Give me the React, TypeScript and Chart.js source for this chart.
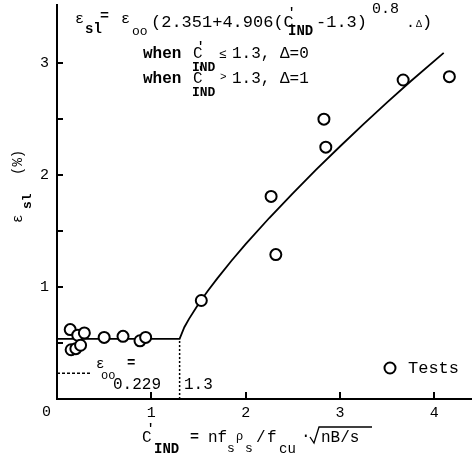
import React, { useEffect, useRef } from 'react';
import { Chart, registerables } from 'chart.js';

Chart.register(...registerables);

// Test points (C'_IND, eps_sl %)
const testX = [0.14, 0.22, 0.29, 0.15, 0.2, 0.25, 0.5, 0.7, 0.88, 0.94, 1.53, 2.27, 2.32, 2.83, 2.85, 3.67, 4.16];
const testY = [0.62, 0.57, 0.59, 0.44, 0.45, 0.48, 0.55, 0.56, 0.52, 0.55, 0.88, 1.81, 1.29, 2.5, 2.25, 2.85, 2.88];

// Model curve
const curveX = [0, 1.3, 1.35, 1.4, 1.5, 1.6, 1.7, 1.85, 2.0, 2.25, 2.5, 2.75, 3.0, 3.25, 3.5, 3.75, 4.1];
const curveY = [0.538, 0.538, 0.641, 0.716, 0.848, 0.967, 1.078, 1.235, 1.383, 1.617, 1.838, 2.051, 2.256, 2.455, 2.65, 2.839, 3.092];

// Dashed guide lines
const eps00X = [0, 0.35];
const eps00Y = [0.229, 0.229];
const cutX = [1.3, 1.3];
const cutY = [0, 0.538];

// Axis ticks
const xTickValues = [1, 2, 3, 4];
const xTickLabels = ['1', '2', '3', '4'];
const yTickValues = [1, 2, 3];
const yTickLabels = ['1', '2', '3'];
const yMinorTicks = [0.5, 1, 1.5, 2, 2.5, 3];

const FONT = '"Liberation Mono", "DejaVu Sans Mono", monospace';

function pts(xs: number[], ys: number[]) {
  return xs.map((x, i) => ({ x, y: ys[i] }));
}

function txt(ctx: CanvasRenderingContext2D, s: string, x: number, y: number, size: number, bold = false) {
  ctx.font = `${bold ? 'bold ' : ''}${size}px ${FONT}`;
  ctx.fillText(s, x, y);
}

const annotations = {
  id: 'annotations',
  afterDraw(chart: any) {
    const ctx: CanvasRenderingContext2D = chart.ctx;
    const xs = chart.scales.x;
    const ys = chart.scales.y;
    ctx.save();
    ctx.fillStyle = '#000';
    ctx.strokeStyle = '#000';
    ctx.textAlign = 'left';
    ctx.textBaseline = 'alphabetic';

    // inward tick marks
    ctx.lineWidth = 2;
    const bottom = chart.chartArea.bottom;
    const left = chart.chartArea.left;
    xTickValues.forEach((v) => {
      const px = Math.round(xs.getPixelForValue(v));
      ctx.beginPath();
      ctx.moveTo(px, bottom);
      ctx.lineTo(px, bottom - 7);
      ctx.stroke();
    });
    yMinorTicks.forEach((v) => {
      const py = Math.round(ys.getPixelForValue(v));
      ctx.beginPath();
      ctx.moveTo(left, py);
      ctx.lineTo(left + 6, py);
      ctx.stroke();
    });

    // "0" at the origin corner
    txt(ctx, '0', 42, 416, 15);

    // Formula
    txt(ctx, 'ε', 75, 23, 15);
    txt(ctx, 'sl', 85, 33, 14, true);
    txt(ctx, '=', 100, 20, 15, true);
    txt(ctx, 'ε', 121, 23, 15);
    txt(ctx, 'oo', 132, 35, 13);
    txt(ctx, '(2.351+4.906(C', 151, 27, 17);
    txt(ctx, "'", 288, 16, 12, true);
    txt(ctx, 'IND', 288, 35, 14, true);
    txt(ctx, '-1.3)', 316, 27, 17);
    txt(ctx, '0.8', 372, 13, 15);
    txt(ctx, '.', 406, 27, 15);
    txt(ctx, 'Δ', 416, 27, 10);
    txt(ctx, ')', 422, 27, 17);

    txt(ctx, 'when', 143, 58, 16, true);
    txt(ctx, 'C', 193, 58, 16);
    txt(ctx, "'", 197, 50, 12, true);
    txt(ctx, 'IND', 192, 71, 13, true);
    txt(ctx, '≤', 219, 58, 13);
    txt(ctx, '1.3,', 232, 58, 16);
    txt(ctx, 'Δ=0', 280, 58, 16);

    txt(ctx, 'when', 143, 83, 16, true);
    txt(ctx, 'C', 193, 83, 16);
    txt(ctx, "'", 197, 75, 12, true);
    txt(ctx, 'IND', 192, 96, 13, true);
    txt(ctx, '>', 220, 80, 11);
    txt(ctx, '1.3,', 232, 83, 16);
    txt(ctx, 'Δ=1', 280, 83, 16);

    // eps_oo annotation
    txt(ctx, 'ε', 96, 368, 14);
    txt(ctx, 'oo', 101, 379, 12);
    txt(ctx, '=', 127, 367, 14, true);
    txt(ctx, '0.229', 113, 389, 16);
    txt(ctx, '1.3', 184, 389, 16);

    // Legend
    ctx.lineWidth = 2;
    ctx.beginPath();
    ctx.arc(390, 368, 5.5, 0, Math.PI * 2);
    ctx.fillStyle = '#fff';
    ctx.fill();
    ctx.stroke();
    ctx.fillStyle = '#000';
    txt(ctx, 'Tests', 408, 373, 17);

    // X title
    txt(ctx, 'C', 142, 442, 16);
    txt(ctx, "'", 147, 432, 12, true);
    txt(ctx, 'IND', 154, 453, 14, true);
    txt(ctx, '=', 190, 441, 15, true);
    txt(ctx, 'nf', 208, 442, 16);
    txt(ctx, 's', 227, 452, 13);
    txt(ctx, 'ρ', 236, 440, 12);
    txt(ctx, 's', 245, 452, 13);
    txt(ctx, '/', 256, 442, 16);
    txt(ctx, 'f', 267, 442, 16);
    txt(ctx, 'cu', 279, 453, 14);
    txt(ctx, '·', 301, 440, 16);
    ctx.lineWidth = 1.3;
    ctx.beginPath();
    ctx.moveTo(310, 437);
    ctx.lineTo(314, 443);
    ctx.lineTo(319, 427);
    ctx.lineTo(372, 427);
    ctx.stroke();
    txt(ctx, 'nB/s', 321, 442, 16);

    // Y title (rotated)
    ctx.translate(22, 223);
    ctx.rotate(-Math.PI / 2);
    txt(ctx, 'ε', 0, 0, 14);
    txt(ctx, 'sl', 14, 9, 13, true);
    txt(ctx, '(%)', 48, 0, 14);
    ctx.restore();
  },
};

export default function App() {
  const ref = useRef<HTMLCanvasElement | null>(null);
  useEffect(() => {
    if (!ref.current) return;
    const chart = new Chart(ref.current, {
      type: 'scatter',
      data: {
        datasets: [
          {
            label: 'Tests',
            data: pts(testX, testY),
            pointRadius: 5.5,
            pointBorderWidth: 2,
            pointBorderColor: '#000',
            pointBackgroundColor: '#fff',
            showLine: false,
            clip: false,
          },
          {
            label: 'model',
            data: pts(curveX, curveY),
            showLine: true,
            pointRadius: 0,
            borderColor: '#000',
            borderWidth: 1.8,
          },
          {
            label: 'eps00',
            data: pts(eps00X, eps00Y),
            showLine: true,
            pointRadius: 0,
            borderColor: '#000',
            borderWidth: 1.5,
            borderDash: [3, 2],
          },
          {
            label: 'cut',
            data: pts(cutX, cutY),
            showLine: true,
            pointRadius: 0,
            borderColor: '#000',
            borderWidth: 1.5,
            borderDash: [2, 2],
          },
        ],
      } as any,
      options: {
        responsive: false,
        animation: false,
        devicePixelRatio: 1,
        layout: { autoPadding: false, padding: { left: 0, right: 0, top: 5, bottom: 0 } },
        plugins: { legend: { display: false }, tooltip: { enabled: false } },
        scales: {
          x: {
            type: 'linear',
            min: 0,
            max: 4.4,
            grid: { display: false, drawTicks: false },
            border: { display: true, color: '#000', width: 2 },
            ticks: {
              stepSize: 1,
              includeBounds: false,
              autoSkip: false,
              maxRotation: 0,
              padding: 5,
              color: '#000',
              font: { family: FONT, size: 15 },
              callback: (v: any) => {
                const i = xTickValues.indexOf(Number(v));
                return i >= 0 ? xTickLabels[i] : null;
              },
            },
            afterFit: (s: any) => {
              s.height = 59;
              s.paddingLeft = 0;
              s.paddingRight = 0;
            },
          },
          y: {
            type: 'linear',
            min: 0,
            max: 3.52,
            grid: { display: false, drawTicks: false },
            border: { display: true, color: '#000', width: 2 },
            ticks: {
              stepSize: 0.5,
              includeBounds: false,
              autoSkip: false,
              padding: 8,
              color: '#000',
              font: { family: FONT, size: 15 },
              callback: (v: any) => {
                const i = yTickValues.indexOf(Number(v));
                return i >= 0 ? yTickLabels[i] : null;
              },
            },
            afterFit: (s: any) => {
              s.width = 57;
              s.paddingTop = 0;
              s.paddingBottom = 0;
            },
          },
        },
      } as any,
      plugins: [annotations],
    });
    return () => chart.destroy();
  }, []);
  return (
    <div style={{ position: 'fixed', left: 0, top: 0, width: 472, height: 458, background: '#fff' }}>
      <canvas ref={ref} width={472} height={458} style={{ width: 472, height: 458, display: 'block' }} />
    </div>
  );
}
